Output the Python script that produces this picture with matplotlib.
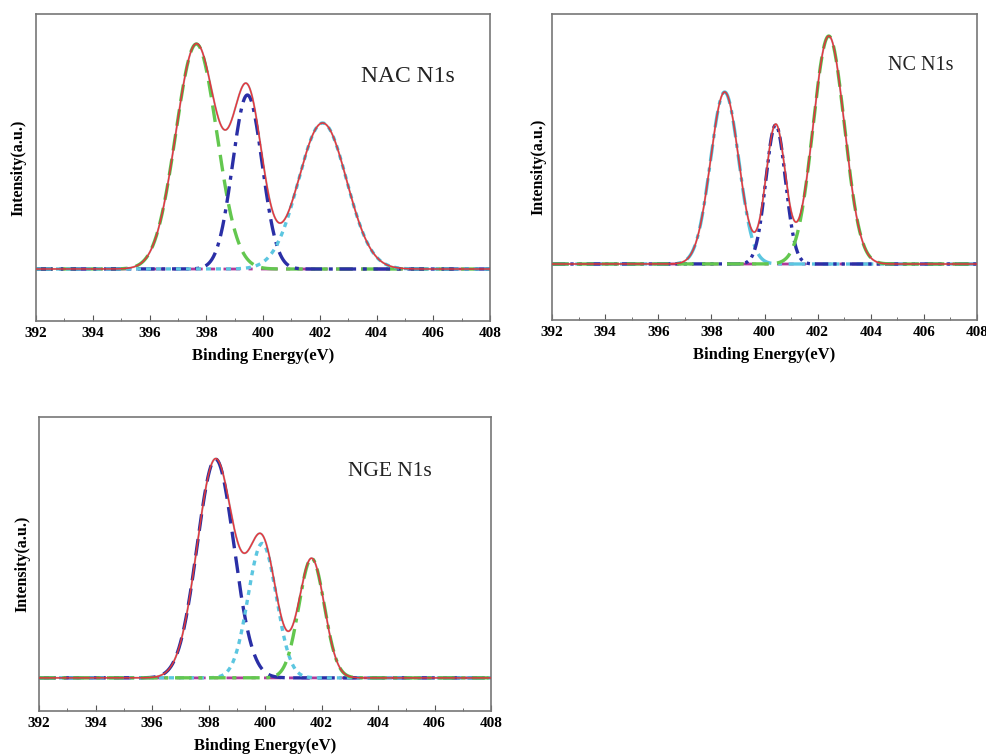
"""XPS N1s peak fits for NAC, NC and NGE samples"""
import numpy as np
import matplotlib
matplotlib.use('Agg')
import matplotlib.pyplot as plt
from matplotlib.ticker import MultipleLocator

plt.rcParams['font.family'] = ['Liberation Serif', 'DejaVu Serif']

# fitted components: centre (eV), height (a.u.), sigma (eV)
nac_centres = [397.65, 399.45, 402.1]
nac_heights = [225, 174, 146]
nac_sigmas = [0.72, 0.52, 0.85]

nc_centres = [398.5, 400.42, 402.42]
nc_heights = [172, 139, 228]
nc_sigmas = [0.53, 0.37, 0.59]

nge_centres = [398.25, 399.9, 401.65]
nge_heights = [218, 134, 119]
nge_sigmas = [0.65, 0.50, 0.45]

x_ticks = [392, 394, 396, 398, 400, 402, 404, 406, 408]

GREEN = '#63c74f'
BLUE = '#2a2fa6'
CYAN = '#5cc6e0'
RED = '#e8343c'
MAGENTA = '#b03a9a'

W, H = 987, 756
energy = np.linspace(392, 408, 1600)


def gauss(c, h, s):
    return h * np.exp(-(energy - c) ** 2 / (2 * s ** 2))


def draw_panel(rect, centres, heights, sigmas, styles, ylim, label, label_pos, label_size, ylabel_pad):
    left, top, right, bottom = rect
    ax = plt.gcf().add_axes([left / W, 1 - bottom / H, (right - left) / W, (bottom - top) / H])
    ax.plot(energy, np.zeros_like(energy), color=MAGENTA, lw=2, ls=(0, (6, 3, 1.5, 3)), zorder=1)
    total = np.zeros_like(energy)
    for c, h, s, (col, ls) in zip(centres, heights, sigmas, styles):
        comp = gauss(c, h, s)
        total += comp
        ax.plot(energy, comp, color=col, lw=2.4, ls=ls, zorder=2)
    ax.plot(energy, total, color='#555555', lw=1.5, alpha=0.45, zorder=3)
    ax.plot(energy, total, color=RED, lw=1.0, zorder=4)
    ax.set_xlim(392, 408)
    ax.set_ylim(*ylim)
    ax.xaxis.set_major_locator(MultipleLocator(2))
    ax.xaxis.set_minor_locator(MultipleLocator(1))
    ax.set_xticks(x_ticks)
    ax.set_yticks([])
    ax.tick_params(axis='x', which='both', direction='in', labelsize=11, pad=4, color='#555555')
    ax.tick_params(axis='x', which='major', length=4)
    ax.tick_params(axis='x', which='minor', length=2.5)
    for lab in ax.get_xticklabels():
        lab.set_fontweight('bold')
    for sp in ax.spines.values():
        sp.set_color('#777777')
        sp.set_linewidth(1.2)
    ax.set_xlabel('Binding Energy(eV)', fontsize=12, fontweight='bold', labelpad=6)
    ax.set_ylabel('Intensity(a.u.)', fontsize=11.5, fontweight='bold', labelpad=ylabel_pad)
    ax.text(label_pos[0], label_pos[1], label, transform=ax.transAxes, fontsize=label_size,
            color='#222222')
    return ax


fig = plt.figure(figsize=(W / 100, H / 100), dpi=100)

draw_panel((36, 14, 490, 321), nac_centres, nac_heights, nac_sigmas,
           [(GREEN, (0, (5, 2.5))), (BLUE, (0, (5, 2, 1.2, 2))), (CYAN, (0, (1.5, 1.5)))],
           (-52, 255), 'NAC N1s', (0.716, 0.778), 17, 7)

draw_panel((552, 14, 977, 320), nc_centres, nc_heights, nc_sigmas,
           [(CYAN, (0, (5, 2, 1.2, 2))), (BLUE, (0, (4, 1.5, 1, 1.5, 1, 1.5))), (GREEN, (0, (5, 2.5)))],
           (-56, 250), 'NC N1s', (0.79, 0.817), 14.5, 4)

draw_panel((39, 417, 491, 711), nge_centres, nge_heights, nge_sigmas,
           [(BLUE, (0, (5, 2.5))), (CYAN, (0, (1.5, 1.5))), (GREEN, (0, (5, 2, 1.2, 2)))],
           (-33, 260), 'NGE N1s', (0.684, 0.80), 15.5, 6)

plt.savefig('out.png', dpi=100)
